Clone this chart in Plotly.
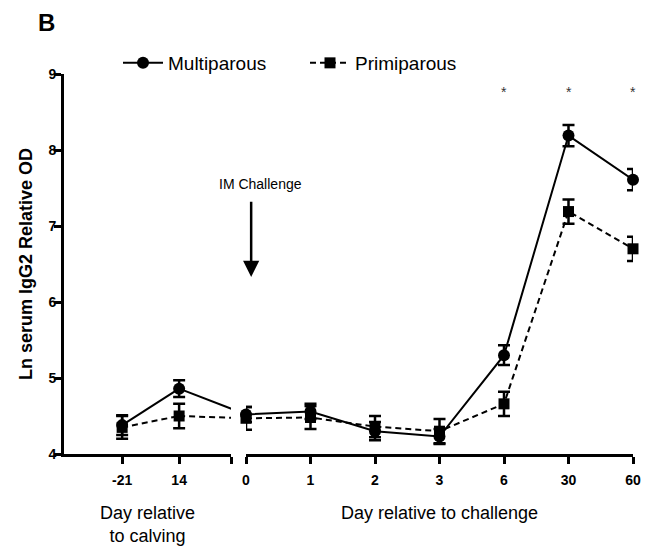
import plotly.graph_objects as go

# ---------------- data ----------------
calving_days = ["-21", "14"]
challenge_days = ["0", "1", "2", "3", "6", "30", "60"]

multi_calving = [4.38, 4.86]
multi_calving_se = [0.13, 0.11]
primi_calving = [4.35, 4.50]
primi_calving_se = [0.15, 0.16]

multi_challenge = [4.52, 4.56, 4.30, 4.23, 5.30, 8.19, 7.61]
multi_challenge_se = [0.10, 0.10, 0.12, 0.10, 0.13, 0.14, 0.14]
primi_challenge = [4.47, 4.48, 4.36, 4.30, 4.66, 7.19, 6.70]
primi_challenge_se = [0.15, 0.15, 0.14, 0.16, 0.16, 0.16, 0.16]

significant_days = ["6", "30", "60"]
y_ticks = [4, 5, 6, 7, 8, 9]

# ---------------- geometry (page body has an 8px margin) ----------------
OFF = 8
W, H = 653 - OFF, 550 - OFF
ML = 64 - OFF
MT = 74 - OFF
MB = H - (454 - OFF)
MR = W - (633 - OFF)
plot_w = W - ML - MR
plot_h = H - MT - MB
seg1_end_px = 231 - OFF
seg2_start_px = 246 - OFF
dom1 = [0, (seg1_end_px - ML) / plot_w]
dom2 = [(seg2_start_px - ML) / plot_w, 1]
range1 = [-1.02, 1.91]
range2 = [0, len(challenge_days) - 1]

FONT = "Liberation Sans, Arial, sans-serif"

pos1 = list(range(len(calving_days)))
pos2 = list(range(len(challenge_days)))

# position of challenge day 0 expressed in axis-1 units (line continues across the break)
px_per_unit1 = (seg1_end_px - ML) / (range1[1] - range1[0])
x0_in_axis1 = range1[0] + (seg2_start_px - ML) / px_per_unit1

fig = go.Figure()

styles = {
    "Multiparous": dict(symbol="circle", size=12, dash="solid"),
    "Primiparous": dict(symbol="square", size=11, dash="6px,4px"),
}
series = [
    ("Multiparous", multi_calving, multi_calving_se, multi_challenge, multi_challenge_se),
    ("Primiparous", primi_calving, primi_calving_se, primi_challenge, primi_challenge_se),
]

for name, yc, sec, ych, sech in series:
    st = styles[name]
    fig.add_trace(go.Scatter(
        x=[pos1[-1], x0_in_axis1], y=[yc[-1], ych[0]],
        mode="lines", line=dict(color="black", width=2, dash=st["dash"]),
        xaxis="x", yaxis="y", showlegend=False, hoverinfo="skip"))
    fig.add_trace(go.Scatter(
        x=pos1, y=yc, mode="lines+markers",
        line=dict(color="black", width=2, dash=st["dash"]),
        marker=dict(symbol=st["symbol"], size=st["size"], color="black"),
        error_y=dict(type="data", array=sec, color="black", thickness=2.5, width=6),
        xaxis="x", yaxis="y", showlegend=False, cliponaxis=False))
    fig.add_trace(go.Scatter(
        x=pos2, y=ych, mode="lines+markers", name=name,
        line=dict(color="black", width=2, dash=st["dash"]),
        marker=dict(symbol=st["symbol"], size=st["size"], color="black"),
        error_y=dict(type="data", array=sech, color="black", thickness=2.5, width=6),
        xaxis="x2", yaxis="y", showlegend=True, cliponaxis=False))

axis_common = dict(
    showline=True, linecolor="black", linewidth=3,
    ticks="outside", ticklen=7, tickwidth=2.5, tickcolor="black",
    showgrid=False, zeroline=False,
    tickfont=dict(family=FONT, size=14, color="black", weight="bold"),
)

fig.update_layout(
    width=W, height=H,
    margin=dict(l=ML, r=MR, t=MT, b=MB, autoexpand=False),
    paper_bgcolor="white", plot_bgcolor="white",
    font=dict(family=FONT, color="black"),
    xaxis=dict(domain=dom1, range=range1, anchor="y", ticklabelstandoff=4,
               tickmode="array", tickvals=pos1 + [range1[1]], ticktext=calving_days + [""],
               title=dict(text="Day relative<br>to calving", font=dict(family=FONT, size=18), standoff=20),
               **axis_common),
    xaxis2=dict(domain=dom2, range=range2, anchor="y", ticklabelstandoff=4,
                tickmode="array", tickvals=pos2, ticktext=challenge_days,
                title=dict(text="Day relative to challenge", font=dict(family=FONT, size=18), standoff=20),
                **axis_common),
    yaxis=dict(range=[y_ticks[0], y_ticks[-1]], anchor="x", tickmode="array", tickvals=y_ticks,
               ticklabelstandoff=-5,
               title=dict(text="Ln serum IgG2 Relative OD", font=dict(family=FONT, size=18, weight="bold"), standoff=12),
               **axis_common),
    legend=dict(orientation="h", x=(118 - OFF - ML) / plot_w, xanchor="left",
                y=(454 - 63) / plot_h, yanchor="middle",
                font=dict(family=FONT, size=19), bgcolor="rgba(0,0,0,0)",
                entrywidth=132, entrywidthmode="pixels", itemwidth=40),
    showlegend=True,
)

# panel label
fig.add_annotation(text="<b>B</b>", xref="paper", yref="paper",
                   x=(36 - OFF - ML) / plot_w, y=(454 - 23) / plot_h,
                   xanchor="left", yanchor="middle", showarrow=False, font=dict(family=FONT, size=24))

# significance asterisks
for d in significant_days:
    fig.add_annotation(text="*", x=challenge_days.index(d), y=8.76, xref="x2", yref="y",
                       showarrow=False, font=dict(family=FONT, size=14, color="#333"))

# IM challenge arrow
fig.add_annotation(text="", x=0.08, y=6.33, ax=0.08, ay=7.34, xref="x2", yref="y", axref="x2", ayref="y",
                   showarrow=True, arrowhead=2, arrowsize=1.3, arrowwidth=2.5, arrowcolor="black")
fig.add_annotation(text="IM Challenge", x=0.23, y=7.55, xref="x2", yref="y", showarrow=False,
                   font=dict(family=FONT, size=14, color="black"))

fig.write_html("out.html")
